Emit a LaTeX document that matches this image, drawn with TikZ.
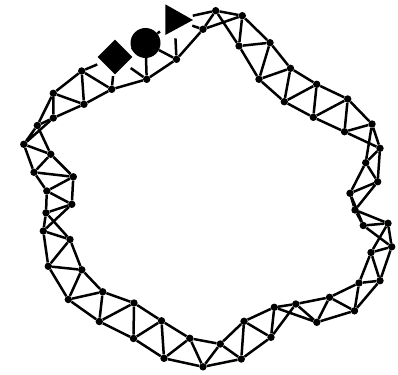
\documentclass[tikz,border=0pt]{standalone}
\usetikzlibrary{shapes.geometric}
\begin{document}
\begin{tikzpicture}[x=1pt,y=-1pt,
  edge/.style={line width=2.5pt},
  dot/.style={circle,fill=black,inner sep=0pt,minimum size=7.4pt},
  hub/.style={circle,inner sep=0pt,minimum size=#1}]
\useasboundingbox (0,0) rectangle (398,374);
\foreach \n/\x/\y in {
 1/203/29.3, 2/215.7/10.7, 3/242.3/15.7, 4/239/46, 5/270/42.7, 6/259/79.3,
 7/290.5/68.3, 8/284.3/101.7, 9/316.7/84.3, 10/313.3/117.3, 11/347.7/99, 12/344.5/131.7,
 13/372/124, 14/380/148.3, 15/365.7/162.7, 16/377.7/181.7, 17/350/193.3, 18/355/210,
 19/363.3/225.5, 20/388/223.3, 21/391.7/246.8, 22/371/252.5, 23/380/280.7, 24/359/283,
 25/354.5/310.8, 26/329.5/297.3, 27/316.8/322.3, 28/295.8/304, 29/274.3/307.3, 30/271/337.3,
 31/244/321.3, 32/241.3/359, 33/220.3/344, 34/203/366.8, 35/189.8/338.3, 36/164/358.3,
 37/161.5/320.8, 38/133.5/338.5, 39/134/303, 40/99.3/321.5, 41/102.7/291.8, 42/68.3/299.5,
 43/81.8/269.8, 44/48.3/266.3, 45/70/239.5, 46/43.3/231, 47/46/212.8, 48/71.8/204.3,
 49/46.8/191, 50/73.3/176.8, 51/34/172.3, 52/50.8/154.3, 53/23.8/144.3, 54/37.3/125.5,
 55/53.3/118, 56/53.3/93.3, 57/84/104.3, 58/81.7/71, 59/111.7/89.3, 61/146.7/79.3, 63/176.5/59.3}
 {\node[dot] (v\n) at (\x,\y) {};}
\node[hub=38pt] (v60) at (115,57) {};
\node[hub=30pt] (v62) at (145.5,43) {};
\node[hub=37pt] (v64) at (174.5,19.7) {};
\foreach \i in {1,...,64}{
  \pgfmathtruncatemacro\j{mod(\i,64)+1}
  \pgfmathtruncatemacro\k{mod(\i+1,64)+1}
  \draw[edge] (v\i) -- (v\j) (v\i) -- (v\k);
}
\node[diamond,fill=black,inner sep=0pt,minimum size=35pt] (dia) at (v60.center) {};
\node[circle,fill=black,inner sep=0pt,minimum size=30pt] (cir) at (v62.center) {};
\fill (165.3,4.3) -- (193,20) -- (165.3,35) -- cycle;
\end{tikzpicture}
\end{document}
